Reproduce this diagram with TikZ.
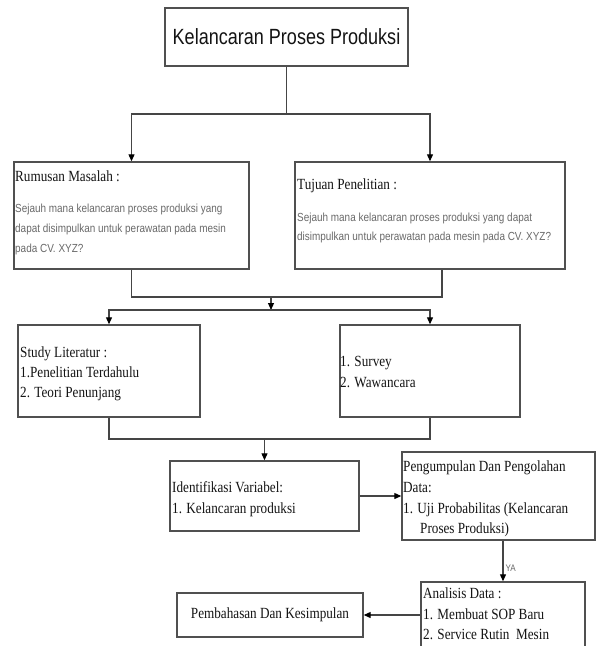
\documentclass[tikz,border=0pt]{standalone}
\usepackage{fontspec}
\usetikzlibrary{arrows.meta,calc}
\newfontfamily\serifn[FakeStretch=0.85]{Liberation Serif}
\newfontfamily\sansn[FakeStretch=0.82]{Liberation Sans}
\newfontfamily\graysans[FakeStretch=0.85]{Liberation Sans}
\definecolor{boxgray}{HTML}{505050}
\definecolor{linegray}{HTML}{454545}
\definecolor{txtgray}{HTML}{6A6A6A}
\definecolor{txtdark}{HTML}{141414}
\begin{document}
\begin{tikzpicture}[x=1pt,y=-1pt,
  box/.style={draw=boxgray, line width=1.4pt, rectangle, inner sep=0pt, fill=white},
  txt/.style={anchor=base west, inner sep=0pt, text=txtdark, font=\serifn\fontsize{15.5}{20}\selectfont},
  gtxt/.style={anchor=base west, inner sep=0pt, text=txtgray, font=\graysans\fontsize{11.7}{14}\selectfont},
  conn/.style={draw=linegray, line width=1.1pt},
  arr/.style={conn, -{Triangle[length=7pt,width=6pt,fill=black,color=black]}}]
\useasboundingbox (0,0) rectangle (596,646);
\fill[white] (0,0) rectangle (596,646);
\begin{scope}
\clip (0,0) rectangle (596,646);
% boxes
\node[box, minimum width=243pt, minimum height=58pt, text=txtdark, font=\sansn\fontsize{22}{24}\selectfont] (top) at (286.5,37) {Kelancaran Proses Produksi};
\node[box, minimum width=235pt, minimum height=107pt] (rum) at (131.5,215.5) {};
\node[box, minimum width=270pt, minimum height=107pt] (tuj) at (430,215.5) {};
\node[box, minimum width=182pt, minimum height=92pt] (stu) at (109,371) {};
\node[box, minimum width=180pt, minimum height=92pt] (sur) at (430,371) {};
\node[box, minimum width=189pt, minimum height=70pt] (idn) at (264.5,496) {};
\node[box, minimum width=193pt, minimum height=88pt] (pen) at (498.5,496) {};
\node[box, minimum width=164pt, minimum height=80pt] (ana) at (503,622) {};
\node[box, minimum width=186pt, minimum height=44pt, text=txtdark, font=\serifn\fontsize{15.5}{20}\selectfont] (pem) at (270,615) {Pembahasan Dan Kesimpulan};

% texts
\node[txt] (rumh) at (15,181) {Rumusan Masalah :};
\node[gtxt] (rum1) at (15,212) {Sejauh mana kelancaran proses produksi yang};
\node[gtxt] (rum2) at (15,232) {dapat disimpulkan untuk perawatan pada mesin};
\node[gtxt] (rum3) at (15,252) {pada CV. XYZ?};
\node[txt] (tujh) at (297,189) {Tujuan Penelitian :};
\node[gtxt] (tuj1) at (297,221) {Sejauh mana kelancaran proses produksi yang dapat};
\node[gtxt] (tuj2) at (297,240) {disimpulkan untuk perawatan pada mesin pada CV. XYZ?};
\node[txt] (stuh) at (20,357) {Study Literatur :};
\node[txt] (stu1) at (20,377) {1.Penelitian Terdahulu};
\node[txt] (stu2) at (20,397) {2. Teori Penunjang};
\node[txt] (sur1) at (340,366) {1. Survey};
\node[txt] (sur2) at (340,387) {2. Wawancara};
\node[txt] (idnh) at (172,492) {Identifikasi Variabel:};
\node[txt] (idn1) at (172,513) {1. Kelancaran produksi};
\node[txt] (penh) at (403,471) {Pengumpulan Dan Pengolahan};
\node[txt] (pen1) at (403,492) {Data:};
\node[txt] (pen2) at (403,513) {1. Uji Probabilitas (Kelancaran};
\node[txt] (pen3) at (420,533) {Proses Produksi)};
\node[txt] (anah) at (423,598) {Analisis Data :};
\node[txt] (ana1) at (423,619) {1. Membuat SOP Baru};
\node[txt] (ana2) at (423,639) {2. Service Rutin\ \ Mesin};

% connectors
\coordinate (j1) at (286.5,114);
\draw[conn] (top.south) -- (j1);
\draw[arr] (j1) -| (rum.north);
\draw[arr] (j1) -| (tuj.north);
\coordinate (tujout) at ($(tuj.south)+(12,0)$);
\coordinate (j2) at (271,297);
\coordinate (j3) at (271,310);
\draw[conn] (rum.south) |- (j2) -| (tujout);
\draw[arr] (j2) -- (j3);
\draw[arr] (j3) -| (stu.north);
\draw[arr] (j3) -| (sur.north);
\coordinate (j4) at (264.5,439);
\draw[conn] (stu.south) |- (j4) -| (sur.south);
\draw[arr] (j4) -- (idn.north);
\draw[arr] (idn.east) -- (pen.west);
\draw[arr] (pen.south -| ana.north) -- node[pos=0.68, anchor=west, inner sep=2pt, text=txtgray, font=\graysans\fontsize{9.5}{10}\selectfont] (ya) {YA} (ana.north);
\draw[arr] (ana.west |- pem.east) -- (pem.east);
\end{scope}
\end{tikzpicture}
\end{document}
